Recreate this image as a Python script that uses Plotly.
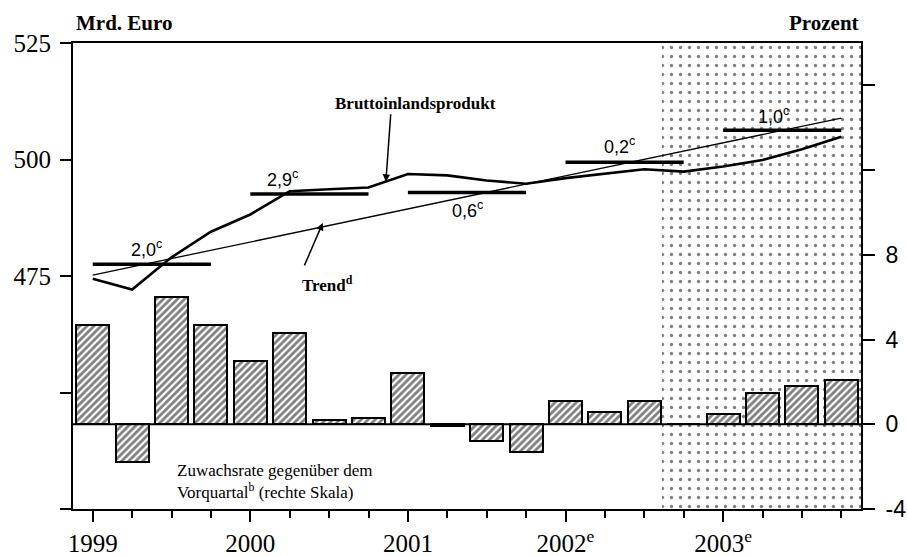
import plotly.graph_objects as go

# ---------------- data ----------------
quarters = ["1999 Q1", "1999 Q2", "1999 Q3", "1999 Q4",
            "2000 Q1", "2000 Q2", "2000 Q3", "2000 Q4",
            "2001 Q1", "2001 Q2", "2001 Q3", "2001 Q4",
            "2002 Q1", "2002 Q2", "2002 Q3", "2002 Q4",
            "2003 Q1", "2003 Q2", "2003 Q3", "2003 Q4"]
# Zuwachsrate gegenüber dem Vorquartal (Prozent, rechte Skala)
growth = [4.7, -1.8, 6.0, 4.7,
          3.0, 4.3, 0.2, 0.3,
          2.4, -0.1, -0.8, -1.3,
          1.1, 0.6, 1.1, 0.0,
          0.5, 1.5, 1.8, 2.1]
# Bruttoinlandsprodukt (Mrd. Euro)
gdp = [474.4, 472.1, 479.0, 484.5,
       488.2, 493.2, 493.6, 494.0,
       496.9, 496.6, 495.5, 494.8,
       496.0, 497.0, 497.9, 497.4,
       498.5, 499.9, 502.2, 504.9]
# Trend (endpoints, Mrd. Euro)
trend_q = [0, 19]
trend_val = [475.2, 508.9]
# Jahresdurchschnitte (Mrd. Euro) and annual growth labels
years = ["1999", "2000", "2001", "2002", "2003"]
year_ticktext = ["1999", "2000", "2001", "2002<sup>e</sup>", "2003<sup>e</sup>"]
annual_avg = [477.5, 492.6, 492.9, 499.4, 506.3]
annual_growth_labels = ["2,0", "2,9", "0,6", "0,2", "1,0"]
forecast_start = 14.45  # start of forecast period (quarter index)

left_ticks = [425, 450, 475, 500, 525]
left_ticktext = ["", "", "475", "500", "525"]
right_ticks = [-4, 0, 4, 8, 12, 16]
right_ticktext = ["-4", "0", "4", "8", "", ""]

# ---------------- figure ----------------
xidx = list(range(len(quarters)))
SERIF = "Liberation Serif"
SANS = "Liberation Sans"

fig = go.Figure()

# forecast shading (dotted)
fig.add_trace(go.Scatter(
    x=[forecast_start, 19.5, 19.5, forecast_start, forecast_start],
    y=[425, 425, 525, 525, 425],
    fill="toself", mode="lines", line=dict(width=0),
    fillcolor="white",
    fillpattern=dict(shape=".", fgcolor="black", bgcolor="white", size=9, solidity=0.11),
    hoverinfo="skip", showlegend=False, yaxis="y"))

# trend
fig.add_trace(go.Scatter(x=trend_q, y=trend_val, mode="lines",
                         line=dict(color="black", width=1.3), showlegend=False))
# GDP
fig.add_trace(go.Scatter(x=xidx, y=gdp, mode="lines",
                         line=dict(color="black", width=2.6), showlegend=False))
# annual averages
for k, v in enumerate(annual_avg):
    fig.add_trace(go.Scatter(x=[4 * k, 4 * k + 3], y=[v, v], mode="lines",
                             line=dict(color="black", width=3.5), showlegend=False))

# bars
fig.add_trace(go.Bar(
    x=xidx, y=growth, yaxis="y2", width=0.84,
    marker=dict(color="white", line=dict(color="black", width=2),
                pattern=dict(shape="/", fgcolor="black", bgcolor="white", size=5, solidity=0.55)),
    showlegend=False))

# zero line of the right scale
fig.add_shape(type="line", xref="paper", x0=0, x1=1, yref="y2", y0=0, y1=0,
              line=dict(color="black", width=2), layer="above")

# annual growth labels
label_shift = [(-5, 16), (-27, 15), (0, -17), (-5, 17), (-9, 15)]
for k, (lab, v) in enumerate(zip(annual_growth_labels, annual_avg)):
    dx, dy = label_shift[k]
    fig.add_annotation(x=4 * k + 1.5, y=v, text=lab + "<sup>c</sup>", showarrow=False,
                       xshift=dx, yshift=dy, font=dict(family=SANS, size=18, color="black"))

# text annotations
fig.add_annotation(x=8.2, y=512.1, text="<b>Bruttoinlandsprodukt</b>", showarrow=False,
                   font=dict(family=SERIF, size=17, color="black"))
fig.add_annotation(x=7.44, y=495.2, text="", showarrow=True, ax=5, ay=-69,
                   arrowhead=2, arrowsize=1, arrowwidth=1.5, arrowcolor="black")
fig.add_annotation(x=5.95, y=473.3, text="<b>Trend<sup>d</sup></b>", showarrow=False,
                   font=dict(family=SERIF, size=17, color="black"))
fig.add_annotation(x=5.84, y=486.4, text="", showarrow=True, ax=-19, ay=44,
                   arrowhead=2, arrowsize=1, arrowwidth=1.5, arrowcolor="black")
fig.add_annotation(x=2.08, y=431.0, xanchor="left", align="left",
                   text="Zuwachsrate gegenüber dem<br>Vorquartal<sup>b</sup> (rechte Skala)",
                   showarrow=False, font=dict(family=SERIF, size=17, color="black"))
fig.add_annotation(xref="paper", yref="paper", x=0, y=1.043, xanchor="left", yanchor="middle",
                   xshift=1, text="<b>Mrd. Euro</b>", showarrow=False,
                   font=dict(family=SERIF, size=21, color="black"))
fig.add_annotation(xref="paper", yref="paper", x=1, y=1.043, xanchor="right", yanchor="middle",
                   text="<b>Prozent</b>", showarrow=False,
                   font=dict(family=SERIF, size=21, color="black"))

fig.update_layout(
    width=907, height=556,
    margin=dict(l=73, r=46, t=43, b=47, autoexpand=False),
    paper_bgcolor="white", plot_bgcolor="white",
    font=dict(family=SERIF, color="black"),
    bargap=0,
    xaxis=dict(range=[-0.5, 19.5], showgrid=False, zeroline=False, automargin=False,
               showline=True, linecolor="black", linewidth=2, mirror=True,
               ticks="outside", ticklen=11, tickwidth=1.5, tickcolor="black",
               tickvals=[0, 4, 8, 12, 16], ticktext=year_ticktext,
               tickfont=dict(family=SERIF, size=25, color="black"),
               minor=dict(tickmode="array", tickvals=xidx, ticks="outside",
                          ticklen=7, tickwidth=1.5, tickcolor="black"),
               layer="above traces"),
    yaxis=dict(range=[425, 525], showgrid=False, zeroline=False, automargin=False,
               showline=True, linecolor="black", linewidth=2,
               ticks="outside", ticklen=11, tickwidth=1.5, tickcolor="black",
               tickvals=left_ticks, ticktext=left_ticktext, ticklabelstandoff=4,
               tickfont=dict(family=SERIF, size=25, color="black"),
               layer="above traces"),
    yaxis2=dict(range=[-4, 18], overlaying="y", side="right", showgrid=False,
                zeroline=False, automargin=False,
                showline=True, linecolor="black", linewidth=2,
                ticks="outside", ticklen=12, tickwidth=1.5, tickcolor="black",
                tickvals=right_ticks, ticktext=right_ticktext, ticklabelstandoff=6,
                tickfont=dict(family=SANS, size=23, color="black"),
                layer="above traces"),
)

fig.write_html("out.html", config={"displayModeBar": False},
               post_script="document.body.style.margin='0';document.body.style.overflow='hidden';")
